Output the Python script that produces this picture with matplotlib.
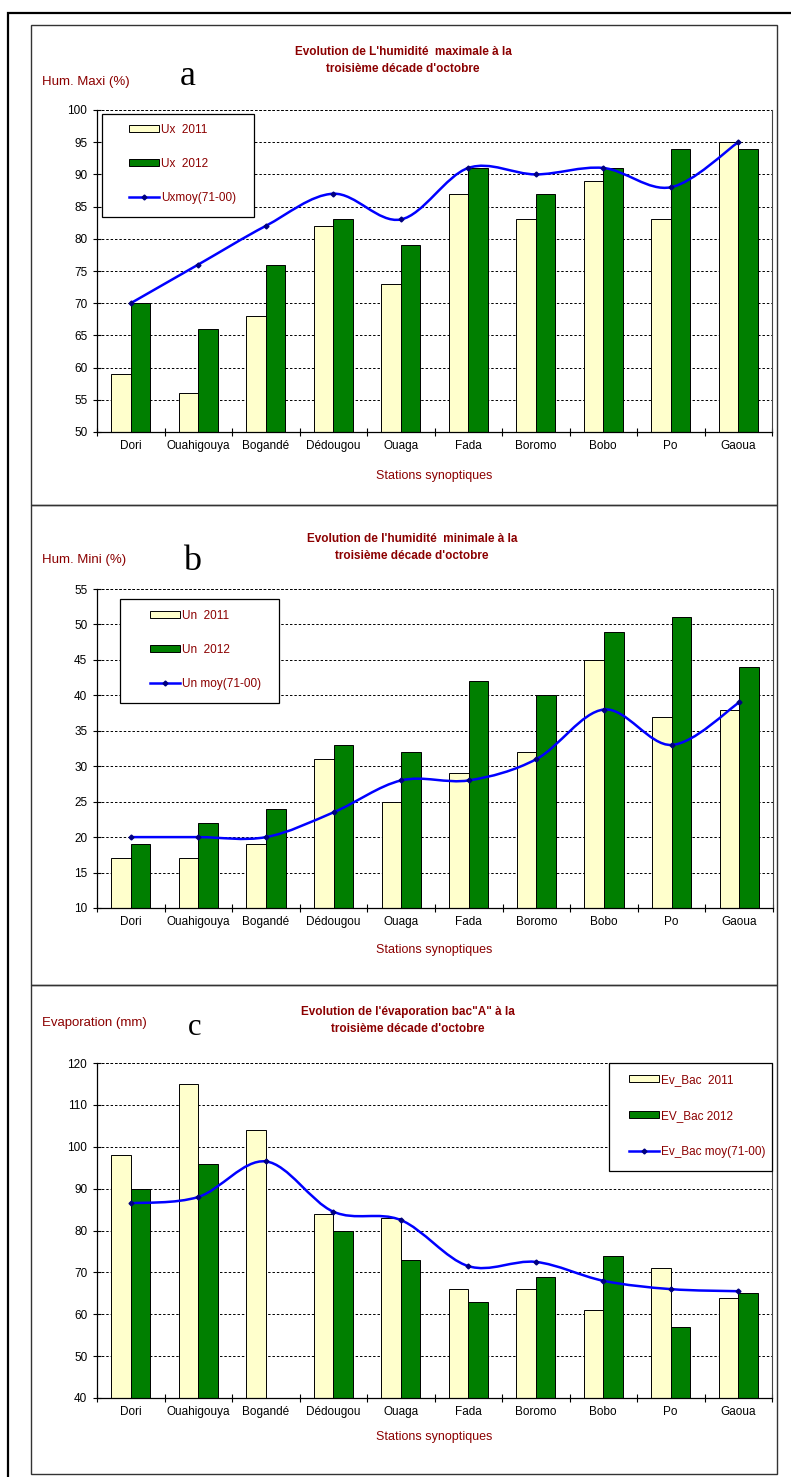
import numpy as np
import matplotlib
matplotlib.use("Agg")
import matplotlib.pyplot as plt
from matplotlib.path import Path
from matplotlib.patches import PathPatch, Rectangle, Patch
from matplotlib.lines import Line2D

plt.rcParams['font.family'] = ['Liberation Sans', 'DejaVu Sans']

stations = ["Dori", "Ouahigouya", "Bogandé", "Dédougou", "Ouaga",
            "Fada", "Boromo", "Bobo", "Po", "Gaoua"]

# a - humidite maximale
ux_2011 = [59, 56, 68, 82, 73, 87, 83, 89, 83, 95]
ux_2012 = [70, 66, 76, 83, 79, 91, 87, 91, 94, 94]
ux_moy = [70, 76, 82, 87, 83, 91, 90, 91, 88, 95]

# b - humidite minimale
un_2011 = [17, 17, 19, 31, 25, 29, 32, 45, 37, 38]
un_2012 = [19, 22, 24, 33, 32, 42, 40, 49, 51, 44]
un_moy = [20, 20, 20, 23.5, 28, 28, 31, 38, 33, 39]

# c - evaporation bac A (pas de valeur 2012 a Bogande)
ev_2011 = [98, 115, 104, 84, 83, 66, 66, 61, 71, 64]
ev_2012 = [90, 96, None, 80, 73, 63, 69, 74, 57, 65]
ev_moy = [86.5, 88, 96.5, 84.5, 82.5, 71.5, 72.5, 68, 66, 65.5]

W, H = 791, 1477
DARKRED = "#8B0000"
YELLOW = "#FFFFCC"
GREEN = "#007F00"
BLUE = "#0000FF"


def fx(px):
    return px / W


def fy(py):
    return 1 - py / H


def smooth_path(xs, ys):
    # courbe lissee facon Excel (Bezier type Catmull-Rom)
    pts = np.column_stack([xs, ys]).astype(float)
    n = len(pts)
    verts = [pts[0]]
    codes = [Path.MOVETO]
    for i in range(n - 1):
        p0 = pts[i - 1] if i > 0 else pts[i]
        p1 = pts[i]
        p2 = pts[i + 1]
        p3 = pts[i + 2] if i + 2 < n else pts[i + 1]
        c1 = p1 + (p2 - p0) / 6
        c2 = p2 - (p3 - p1) / 6
        verts += [c1, c2, p2]
        codes += [Path.CURVE4] * 3
    return Path(verts, codes)


fig = plt.figure(figsize=(W / 100, H / 100), dpi=100)

# cadre exterieur + cadres des trois graphiques
fig.add_artist(Rectangle((fx(8), fy(1500)), fx(820), (1500 - 13) / H,
                         transform=fig.transFigure, fill=False, lw=1.6, ec="black"))
for top, bot in [(25, 505), (505, 985), (985, 1474)]:
    fig.add_artist(Rectangle((fx(31), fy(bot)), fx(777 - 31), (bot - top) / H,
                             transform=fig.transFigure, fill=False, lw=1.0, ec="#333333"))

panels = [
    dict(top=110, bot=432, right=772, y0=50, y1=100, step=5,
         s1=ux_2011, s2=ux_2012, moy=ux_moy,
         labels=["Ux  2011", "Ux  2012", "Uxmoy(71-00)"],
         title=("Evolution de L'humidité  maximale à la", "troisième décade d'octobre"),
         tx=403, ty=52, ylab="Hum. Maxi (%)", yly=82,
         letter="a", lx=180, lb=85, lsize=26,
         box=(102, 254, 114, 217), rows=(131, 166, 200), hx=129, xlab_y=476),
    dict(top=589, bot=908, right=773, y0=10, y1=55, step=5,
         s1=un_2011, s2=un_2012, moy=un_moy,
         labels=["Un  2011", "Un  2012", "Un moy(71-00)"],
         title=("Evolution de l'humidité  minimale à la", "troisième décade d'octobre"),
         tx=412, ty=539, ylab="Hum. Mini (%)", yly=560,
         letter="b", lx=183, lb=570, lsize=26,
         box=(120, 279, 599, 703), rows=(617, 652, 688), hx=150, xlab_y=950),
    dict(top=1063, bot=1398, right=772, y0=40, y1=120, step=10,
         s1=ev_2011, s2=ev_2012, moy=ev_moy,
         labels=["Ev_Bac  2011", "EV_Bac 2012", "Ev_Bac moy(71-00)"],
         title=("Evolution de l'évaporation bac\"A\" à la", "troisième décade d'octobre"),
         tx=408, ty=1012, ylab="Evaporation (mm)", yly=1023,
         letter="c", lx=188, lb=1035, lsize=22,
         box=(609, 772, 1063, 1171), rows=(1081, 1118, 1155), hx=629, xlab_y=1437),
]

x = np.arange(len(stations))
bw = 0.29

for p in panels:
    ax = fig.add_axes([fx(97), fy(p['bot']), fx(p['right'] - 97), (p['bot'] - p['top']) / H])
    v1 = np.array(p['s1'], dtype=float)
    v2 = np.array([np.nan if v is None else v for v in p['s2']], dtype=float)
    ax.bar(x - bw / 2, v1, bw, color=YELLOW, edgecolor="black", linewidth=0.7, zorder=2)
    ax.bar(x + bw / 2, v2, bw, color=GREEN, edgecolor="black", linewidth=0.7, zorder=2)
    ax.add_patch(PathPatch(smooth_path(x, p['moy']), fill=False, ec=BLUE, lw=1.8, zorder=3))
    ax.plot(x, p['moy'], linestyle="none", marker="D", ms=2.5, color="#000080", zorder=4)

    ax.set_xlim(-0.5, len(stations) - 0.5)
    ax.set_ylim(p['y0'], p['y1'])
    ax.set_yticks(np.arange(p['y0'], p['y1'] + 0.1, p['step']))
    ax.set_xticks(x)
    ax.set_xticklabels(stations)
    ax.set_xticks(np.arange(-0.5, len(stations)), minor=True)
    ax.tick_params(axis="x", which="major", length=0, labelsize=8.5, pad=6)
    ax.tick_params(axis="x", which="minor", length=6, direction="inout", width=0.8)
    ax.tick_params(axis="y", length=6, direction="inout", width=0.8, labelsize=8.5, pad=4)
    ax.yaxis.grid(True, color="black", linestyle=(0, (2.5, 2)), linewidth=0.7, zorder=0)
    ax.set_axisbelow(True)
    ax.spines['top'].set_visible(False)
    ax.spines['right'].set_linewidth(0.8)
    ax.spines['right'].set_color("#444444")
    ax.spines['left'].set_linewidth(0.9)
    ax.spines['bottom'].set_linewidth(0.9)
    ax.axhline(p['y1'], color="black", linestyle=(0, (2.5, 2)), linewidth=0.7, clip_on=False)

    fig.text(fx(434), fy(p['xlab_y']), "Stations synoptiques", color=DARKRED,
             fontsize=9, ha="center", va="center")
    fig.text(fx(p['tx']), fy(p['ty']), p['title'][0], color=DARKRED, fontsize=8.5,
             fontweight="bold", ha="center", va="center")
    fig.text(fx(p['tx']), fy(p['ty'] + 17), p['title'][1], color=DARKRED, fontsize=8.5,
             fontweight="bold", ha="center", va="center")
    fig.text(fx(42), fy(p['yly']), p['ylab'], color=DARKRED, fontsize=9.5,
             ha="left", va="center")
    fig.text(fx(p['lx']), fy(p['lb']), p['letter'], fontsize=p['lsize'], ha="left",
             va="baseline", family=["Liberation Serif", "DejaVu Serif"])

    # cadre de la legende (fond blanc par-dessus la grille)
    bx0, bx1, by0, by1 = p['box']
    ax.add_patch(Rectangle((fx(bx0), fy(by1)), fx(bx1 - bx0), (by1 - by0) / H,
                           transform=fig.transFigure, facecolor="white", edgecolor="black",
                           lw=0.9, clip_on=False, zorder=5))

    handles = [Patch(facecolor=YELLOW, edgecolor="black", linewidth=0.7),
               Patch(facecolor=GREEN, edgecolor="black", linewidth=0.7),
               Line2D([0], [0], color=BLUE, lw=1.8, marker="D", ms=2.5,
                      markerfacecolor="#000080", markeredgecolor="#000080")]
    r = p['rows']
    leg = ax.legend(handles, p['labels'], loc="upper left",
                    bbox_to_anchor=(fx(p['hx']), fy(r[0] - 7)),
                    bbox_transform=fig.transFigure, fontsize=8.5, labelcolor=DARKRED,
                    frameon=False, handlelength=2.5, handleheight=0.5, handletextpad=0.25,
                    labelspacing=(r[1] - r[0] - 13) / 11.8, borderpad=0, borderaxespad=0)
    leg.set_zorder(6)

fig.savefig("out.png", dpi=100)
